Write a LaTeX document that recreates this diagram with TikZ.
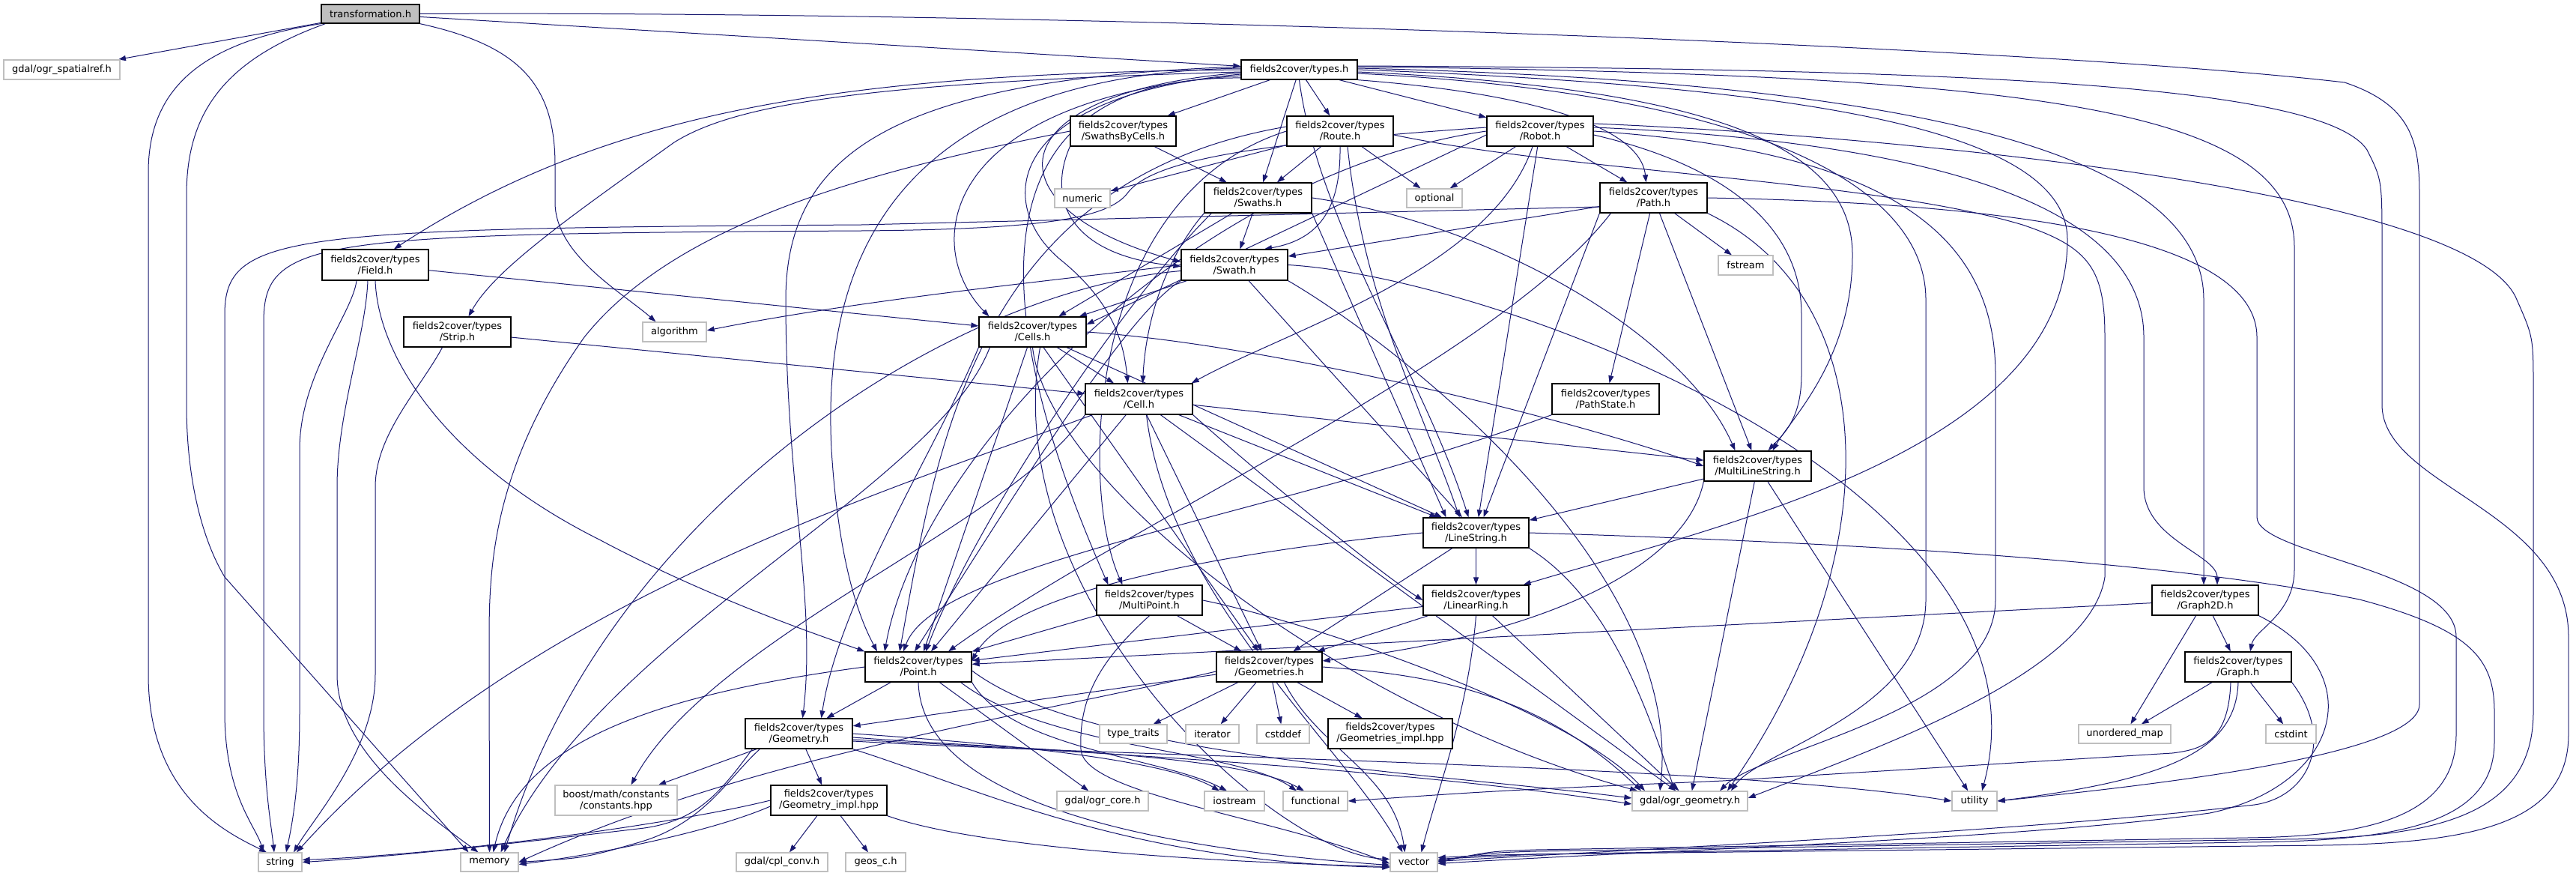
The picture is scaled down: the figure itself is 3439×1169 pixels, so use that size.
\documentclass[tikz,border=0pt]{standalone}
\usepackage{fontspec}
\setmainfont{DejaVu Sans}
\usetikzlibrary{arrows.meta,backgrounds}
\definecolor{navy}{HTML}{191970}
\definecolor{extgray}{HTML}{BFBFBF}
\definecolor{rootgray}{HTML}{BFBFBF}
\newcommand{\dxfont}{\fontsize{13}{15}\selectfont}
\tikzset{
  hdoc/.style={draw=black, line width=1.3pt, fill=white, inner sep=0pt, align=center, font=\dxfont},
  hext/.style={draw=extgray, line width=1.3pt, fill=white, inner sep=0pt, align=center, font=\dxfont},
  hroot/.style={hdoc, fill=rootgray},
  sz/.style 2 args={minimum width=#1pt, minimum height=#2pt},
  dep/.style={draw=navy, line width=1pt, line join=round, -{Triangle[length=10pt,width=7pt]}}
}
\begin{document}
\begin{tikzpicture}[x=1pt,y=-1pt]
\useasboundingbox (0,0) rectangle (3439,1169);
% ---------------- nodes ----------------
\node[hroot,sz={131}{25}] (tr) at (494.5,18.5) {transformation.h};
\node[hext,sz={155}{26}] (spat) at (82.5,93) {gdal/ogr\_spatialref.h};
\node[hdoc,sz={155}{26}] (ty) at (1734.5,93) {fields2cover/types.h};
\node[hdoc,sz={141}{40}] (sbc) at (1499.5,175) {fields2cover/types\\/SwathsByCells.h};
\node[hdoc,sz={142}{40}] (route) at (1789,175) {fields2cover/types\\/Route.h};
\node[hdoc,sz={142}{40}] (robot) at (2056,175) {fields2cover/types\\/Robot.h};
\node[hext,sz={74}{25}] (numeric) at (1445,264.5) {numeric};
\node[hdoc,sz={143}{40}] (swaths) at (1679.5,264) {fields2cover/types\\/Swaths.h};
\node[hext,sz={74}{25}] (optional) at (1915,264.5) {optional};
\node[hdoc,sz={143}{40}] (path) at (2207.5,264) {fields2cover/types\\/Path.h};
\node[hext,sz={73}{26}] (fstream) at (2330.5,354) {fstream};
\node[hdoc,sz={142}{41}] (field) at (501,353.5) {fields2cover/types\\/Field.h};
\node[hdoc,sz={142}{41}] (swath) at (1648,353.5) {fields2cover/types\\/Swath.h};
\node[hdoc,sz={143}{40}] (strip) at (610.5,443) {fields2cover/types\\/Strip.h};
\node[hext,sz={85}{26}] (algo) at (900.5,443) {algorithm};
\node[hdoc,sz={143}{40}] (cells) at (1378.5,443) {fields2cover/types\\/Cells.h};
\node[hdoc,sz={143}{41}] (cell) at (1520.5,532.5) {fields2cover/types\\/Cell.h};
\node[hdoc,sz={143}{41}] (pstate) at (2143.5,532.5) {fields2cover/types\\/PathState.h};
\node[hdoc,sz={143}{40}] (mls) at (2346.5,622) {fields2cover/types\\/MultiLineString.h};
\node[hdoc,sz={141}{40}] (ls) at (1970.5,711) {fields2cover/types\\/LineString.h};
\node[hdoc,sz={141}{40}] (mp) at (1534.5,801) {fields2cover/types\\/MultiPoint.h};
\node[hdoc,sz={141}{40}] (lr) at (1970.5,801) {fields2cover/types\\/LinearRing.h};
\node[hdoc,sz={142}{40}] (g2d) at (2944,801) {fields2cover/types\\/Graph2D.h};
\node[hdoc,sz={142}{40}] (point) at (1226,890) {fields2cover/types\\/Point.h};
\node[hdoc,sz={141}{40}] (geoms) at (1694.5,890) {fields2cover/types\\/Geometries.h};
\node[hdoc,sz={142}{40}] (graph) at (2988,890) {fields2cover/types\\/Graph.h};
\node[hext,sz={90}{25}] (ttraits) at (1513,979.5) {type\_traits};
\node[hext,sz={71}{25}] (iter) at (1618.5,979.5) {iterator};
\node[hext,sz={70}{25}] (cstddef) at (1713,979.5) {cstddef};
\node[hdoc,sz={166}{40}] (gimpls) at (1856,979) {fields2cover/types\\/Geometries\_impl.hpp};
\node[hdoc,sz={143}{40}] (geom) at (1066.5,979) {fields2cover/types\\/Geometry.h};
\node[hext,sz={123}{25}] (umap) at (2836.5,979.5) {unordered\_map};
\node[hext,sz={67}{25}] (cstdint) at (3058.5,979.5) {cstdint};
\node[hext,sz={163}{40}] (boost) at (822.5,1068) {boost/math/constants\\/constants.hpp};
\node[hdoc,sz={155}{40}] (geomimpl) at (1106.5,1068) {fields2cover/types\\/Geometry\_impl.hpp};
\node[hext,sz={122}{26}] (ogrcore) at (1472,1069) {gdal/ogr\_core.h};
\node[hext,sz={80}{26}] (iostream) at (1648,1069) {iostream};
\node[hext,sz={86}{26}] (functional) at (1756,1069) {functional};
\node[hext,sz={154}{26}] (ogrgeom) at (2256,1069) {gdal/ogr\_geometry.h};
\node[hext,sz={60}{26}] (utility) at (2636,1069) {utility};
\node[hext,sz={58}{25}] (string) at (374,1150.5) {string};
\node[hext,sz={77}{25}] (memory) at (653.5,1150.5) {memory};
\node[hext,sz={122}{25}] (cplconv) at (1044,1150.5) {gdal/cpl\_conv.h};
\node[hext,sz={80}{25}] (geosc) at (1169,1150.5) {geos\_c.h};
\node[hext,sz={63}{25}] (vector) at (1887.5,1150.5) {vector};
% ---------------- edges ----------------
\begin{scope}[on background layer]
\fill[white] (0,0) rectangle (3439,1169);
% transformation.h
\draw[dep] (tr) -- (spat);
\draw[dep] (tr) -- (ty);
\draw[dep] (tr.south west) .. controls (280,55) and (198,110) .. (198,230) -- (198,900) .. controls (198,1060) and (300,1110) .. ([xshift=-18pt]string.north);
\draw[dep] ([xshift=6pt]tr.south west) .. controls (300,80) and (249,150) .. (249,260) -- (249,540) .. controls (249,640) and (270,720) .. (300,770) -- ([xshift=-28pt]memory.north);
\draw[dep] (tr.south east) .. controls (690,60) and (741,110) .. (741,220) -- (741,270) .. controls (741,340) and (830,390) .. ([xshift=-25pt]algo.north);
\draw[dep] (tr.east) .. controls (1400,14) and (2700,60) .. (3130,110) .. controls (3220,140) and (3230,190) .. (3230,260) -- (3230,940) .. controls (3230,1010) and (2850,1050) .. (utility.east);
% types.h
\draw[dep] (ty) -- (sbc);
\draw[dep] (ty) -- (route);
\draw[dep] (ty) -- (robot);
\draw[dep] (ty) -- (swaths);
\draw[dep] (ty.south east) .. controls (2050,125) and (2190,170) .. ([xshift=-10pt]path.north);
\draw[dep] ([yshift=-4pt]ty.west) .. controls (1320,125) and (1320,280) .. ([yshift=4pt]swath.west);
\draw[dep] (ty.west) .. controls (1150,98) and (820,140) .. ([xshift=25pt]field.north);
\draw[dep] ([yshift=-3pt]ty.west) .. controls (1150,110) and (980,140) .. (900,190) .. controls (760,290) and (660,360) .. ([xshift=15pt]strip.north);
\draw[dep] ([yshift=-8pt]ty.west) .. controls (1250,130) and (1230,330) .. ([xshift=-58pt]cells.north);
\draw[dep] ([yshift=-6pt]ty.west) .. controls (1330,130) and (1330,280) .. (1420,350) .. controls (1480,400) and (1500,450) .. ([xshift=-15pt]cell.north);
\draw[dep] ([yshift=2pt]ty.west) .. controls (1150,100) and (1100,400) .. (1110,600) .. controls (1120,760) and (1150,830) .. ([xshift=-55pt]point.north);
\draw[dep] ([yshift=-11pt]ty.west) .. controls (1200,100) and (1400,600) .. ([xshift=-55pt]mp.north);
\draw[dep] ([yshift=4pt]ty.west) .. controls (1200,105) and (1049,200) .. (1049,400) .. controls (1049,650) and (1090,800) .. ([xshift=5pt]geom.north);
\draw[dep] (ty.south) .. controls (1760,300) and (1900,500) .. ([xshift=-10pt]ls.north);
\draw[dep] (ty.east) .. controls (2400,115) and (2760,170) .. (2760,320) .. controls (2760,600) and (2300,700) .. ([xshift=-8pt]lr.north east);
\draw[dep] ([yshift=-3pt]ty.east) .. controls (2300,118) and (2473,200) .. (2473,340) .. controls (2473,480) and (2390,560) .. ([xshift=20pt]mls.north);
\draw[dep] ([yshift=2pt]ty.east) .. controls (2500,108) and (2942,190) .. (2942,400) -- ([xshift=-2pt]g2d.north);
\draw[dep] ([yshift=4pt]ty.east) .. controls (2700,100) and (3063,140) .. (3063,330) -- (3063,760) .. controls (3063,820) and (3010,840) .. ([xshift=16pt]graph.north);
\draw[dep] ([yshift=5pt]ty.east) .. controls (2600,92) and (3100,110) .. (3160,200) .. controls (3180,240) .. (3180,330) -- (3180,540) .. controls (3180,650) and (3429,680) .. (3429,850) -- (3429,980) .. controls (3429,1100) and (3300,1125) .. (3100,1128) -- (2050,1140) .. controls (1990,1142) .. ([yshift=4pt]vector.east);
\draw[dep] ([yshift=-5pt]ty.east) .. controls (2350,125) and (2571,250) .. (2571,400) -- (2571,800) .. controls (2571,950) and (2350,1000) .. ([xshift=55pt]ogrgeom.north);
% SwathsByCells.h
\draw[dep] (sbc) -- (swaths);
\draw[dep] (sbc.south west) .. controls (1400,260) and (1420,340) .. ([yshift=-2pt]swath.west);
\draw[dep] (sbc.west) .. controls (1150,230) and (900,300) .. (780,450) .. controls (660,620) and (653,750) .. (653,850) -- (memory.north);
% Route.h
\draw[dep] (route) -- (numeric);
\draw[dep] (route) -- (optional);
\draw[dep] (route) -- (swaths);
\draw[dep] (route.south) .. controls (1790,280) and (1760,320) .. ([xshift=40pt]swath.north);
\draw[dep] ([xshift=10pt]route.south) .. controls (1820,400) and (1900,550) .. ([xshift=-22pt]ls.north);
\draw[dep] (route.west) .. controls (1450,260) and (1440,650) .. ([xshift=-36pt]mp.north);
\draw[dep] ([yshift=6pt]route.west) .. controls (1300,240) and (1250,600) .. ([xshift=-25pt]point.north);
\draw[dep] ([yshift=-5pt]route.east) .. controls (2100,230) and (2500,240) .. (2700,300) .. controls (2790,330) and (2810,360) .. (2810,450) -- (2810,770) .. controls (2790,900) and (2500,1000) .. ([yshift=4pt]ogrgeom.east);
% Robot.h
\draw[dep] (robot) -- (optional);
\draw[dep] (robot) -- (path);
\draw[dep] ([xshift=-10pt]robot.south) .. controls (1990,360) and (1720,440) .. ([xshift=-2pt]cell.north east);
\draw[dep] (robot) -- (ls);
\draw[dep] ([yshift=-5pt]robot.west) -- ([yshift=10pt]cells.east);
\draw[dep] (robot.west) .. controls (1600,230) and (1230,600) .. ([xshift=-45pt]point.north);
\draw[dep] ([yshift=5pt]robot.west) .. controls (1700,190) and (1540,210) .. (1505,258) .. controls (1480,290) and (1400,306) .. (1150,308) .. controls (420,312) and (352,318) .. (352,430) -- (352,950) .. controls (352,1050) and (362,1100) .. ([xshift=-8pt]string.north);
\draw[dep] ([yshift=5pt]robot.east) .. controls (2600,190) and (2862,280) .. (2862,450) -- (2862,650) .. controls (2862,720) and (2960,740) .. ([xshift=16pt]g2d.north);
\draw[dep] ([yshift=-5pt]robot.east) .. controls (2300,220) and (2405,300) .. (2405,420) -- (2405,500) .. controls (2405,560) and (2380,580) .. ([xshift=14pt]mls.north);
\draw[dep] (robot.east) .. controls (2500,200) and (2664,300) .. (2664,500) -- (2664,800) .. controls (2664,950) and (2350,1000) .. ([xshift=40pt]ogrgeom.north);
\draw[dep] ([yshift=10pt]robot.east) .. controls (2500,180) and (3300,250) .. (3360,400) .. controls (3382,450) .. (3382,520) -- (3382,950) .. controls (3382,1090) and (3250,1118) .. (3050,1120) -- (2050,1136) .. controls (1990,1138) .. ([yshift=2pt]vector.east);
% Path.h
\draw[dep] (path) -- (swath);
\draw[dep] (path) -- (fstream);
\draw[dep] (path) -- (pstate);
\draw[dep] (path.south west) -- ([xshift=10pt]ls.north);
\draw[dep] (path) -- (mls);
\draw[dep] ([xshift=15pt]path.south west) .. controls (2000,480) and (1500,700) .. ([xshift=40pt]point.north);
\draw[dep] ([yshift=-12pt]path.west) -- (1150,300) .. controls (380,305) and (300,312) .. (300,420) -- (300,950) .. controls (300,1060) and (340,1100) .. ([xshift=-22pt]string.north);
\draw[dep] (path.south east) .. controls (2520,400) and (2520,750) .. ([xshift=50pt]ogrgeom.north);
\draw[dep] (path.east) .. controls (2600,270) and (3013,300) .. (3013,450) -- (3013,690) .. controls (3013,740) and (3279,760) .. (3279,850) -- (3279,980) .. controls (3279,1095) and (3150,1116) .. (3000,1118) -- (2050,1134) .. controls (1990,1136) .. (vector.east);
% Swaths.h
\draw[dep] (swaths) -- (swath);
\draw[dep] (swaths) -- (cells);
\draw[dep] (swaths.south west) .. controls (1560,340) and (1530,420) .. ([xshift=5pt]cell.north);
\draw[dep] (swaths.south east) -- ([xshift=-40pt]ls.north);
\draw[dep] (swaths.east) .. controls (2000,300) and (2250,450) .. ([xshift=-30pt]mls.north);
\draw[dep] ([xshift=10pt]swaths.south west) .. controls (1500,400) and (1300,700) .. ([xshift=10pt]point.north);
% Swath.h
\draw[dep] (swath.west) .. controls (1400,375) and (1150,400) .. ([yshift=2pt]algo.east);
\draw[dep] (swath) -- (cells);
\draw[dep] (swath) -- (ls);
\draw[dep] (swath.south west) .. controls (1500,420) and (1330,700) .. ([xshift=-5pt]point.north);
\draw[dep] (swath.south east) .. controls (1850,450) and (2250,750) .. ([xshift=-40pt]ogrgeom.north);
\draw[dep] (swath.east) .. controls (2000,370) and (2755,650) .. ([xshift=10pt]utility.north);
\draw[dep] ([yshift=-8pt]swath.west) .. controls (1250,390) and (800,700) .. ([xshift=20pt]memory.north);
% Field.h
\draw[dep] (field) -- ([yshift=8pt]cells.west);
\draw[dep] (field.south) .. controls (505,480) and (600,620) .. (800,720) .. controls (950,800) and (1100,850) .. (point.north west);
\draw[dep] ([xshift=-25pt]field.south) .. controls (470,420) and (400,500) .. (400,600) -- (400,950) .. controls (400,1050) and (390,1100) .. ([xshift=8pt]string.north);
\draw[dep] ([xshift=-10pt]field.south) .. controls (488,450) and (450,550) .. (450,650) -- (450,900) .. controls (450,1000) and (560,1080) .. ([xshift=-15pt]memory.north);
% Strip.h
\draw[dep] (strip) -- (cell);
\draw[dep] ([xshift=-20pt]strip.south) .. controls (560,520) and (501,580) .. (501,650) -- (501,900) .. controls (501,1000) and (420,1090) .. ([xshift=18pt]string.north);
% Cells.h
\draw[dep] (cells) -- (cell);
\draw[dep] (cells) -- (ls);
\draw[dep] (cells) -- (point);
\draw[dep] (cells.south west) .. controls (1250,600) and (1120,800) .. ([xshift=30pt]geom.north);
\draw[dep] (cells) -- (geoms);
\draw[dep] (cells.east) .. controls (1700,460) and (2100,560) .. (mls.west);
\draw[dep] ([xshift=15pt]cells.south west) .. controls (1250,650) and (800,850) .. ([xshift=15pt]memory.north);
\draw[dep] (cells.south) .. controls (1400,650) and (1800,950) .. ([xshift=-70pt]ogrgeom.north);
\draw[dep] ([xshift=10pt]cells.south) .. controls (1330,800) and (1700,1140) .. ([yshift=4pt]vector.west);
% Cell.h
\draw[dep] (cell) -- (mls);
\draw[dep] (cell) -- (ls);
\draw[dep] (cell.south east) .. controls (1700,650) and (1850,770) .. (lr.west);
\draw[dep] (cell) -- (geoms);
\draw[dep] (cell) -- (point);
\draw[dep] (cell.south west) .. controls (1350,700) and (950,850) .. ([xshift=20pt]boost.north);
\draw[dep] ([xshift=10pt]cell.south west) .. controls (1200,650) and (700,800) .. ([xshift=22pt]string.north);
\draw[dep] ([xshift=10pt]cell.south) .. controls (1560,800) and (1800,1000) .. ([xshift=-15pt]vector.north);
\draw[dep] (cell) -- (ogrgeom);
% PathState.h
\draw[dep] (pstate.south west) .. controls (1700,690) and (1250,750) .. ([xshift=-20pt]point.north);
% MultiLineString.h
\draw[dep] (mls) -- (ls);
\draw[dep] (mls.south west) .. controls (2250,760) and (2050,850) .. ([yshift=8pt]geoms.east);
\draw[dep] (mls) -- (ogrgeom);
\draw[dep] (mls) -- (utility);
% LineString.h
\draw[dep] (ls.west) .. controls (1700,730) and (1350,780) .. ([yshift=8pt]point.east);
\draw[dep] (ls) -- (lr);
\draw[dep] (ls) -- (geoms);
\draw[dep] (ls.south east) .. controls (2150,800) and (2200,950) .. ([xshift=-20pt]ogrgeom.north);
\draw[dep] (ls.east) .. controls (2500,725) and (2900,750) .. (3150,800) .. controls (3300,840) and (3330,880) .. (3330,950) -- (3330,990) .. controls (3330,1100) and (3200,1122) .. (3000,1124) -- (2050,1140) .. controls (1990,1141) .. ([yshift=6pt]vector.east);
% LinearRing.h
\draw[dep] (lr) -- (point);
\draw[dep] (lr) -- (geoms);
\draw[dep] (lr) -- (ogrgeom);
\draw[dep] (lr.south) .. controls (1960,950) and (1920,1050) .. ([xshift=10pt]vector.north);
% MultiPoint.h
\draw[dep] (mp) -- (point);
\draw[dep] (mp) -- (geoms);
\draw[dep] (mp.east) .. controls (1750,830) and (2100,950) .. ([xshift=-60pt]ogrgeom.north);
\draw[dep] (mp.south) .. controls (1470,880) and (1440,930) .. (1443,1000) .. controls (1446,1060) and (1700,1090) .. ([yshift=-2pt]vector.west);
% Graph2D.h
\draw[dep] (g2d) -- (point);
\draw[dep] (g2d) -- (graph);
\draw[dep] (g2d) -- (umap);
\draw[dep] (g2d.south east) .. controls (3170,900) and (3120,1050) .. (2950,1085) .. controls (2700,1120) and (2200,1135) .. ([yshift=-2pt]vector.east);
% Graph.h
\draw[dep] (graph) -- (umap);
\draw[dep] (graph) -- (cstdint);
\draw[dep] ([xshift=-10pt]graph.south) .. controls (2975,990) and (2940,1000) .. (2900,1005) -- (2300,1042) .. controls (2000,1055) .. (functional.east);
\draw[dep] (graph.south) .. controls (2985,1000) and (2900,1040) .. (utility.east);
\draw[dep] (graph.south east) .. controls (3120,990) and (3080,1070) .. (3000,1075) .. controls (2700,1110) and (2200,1132) .. ([yshift=1pt]vector.east);
% Point.h
\draw[dep] (point) -- (geom);
\draw[dep] (point.west) .. controls (850,930) and (690,1000) .. ([xshift=5pt]memory.north);
\draw[dep] (point) -- (ogrcore);
\draw[dep] (point.south east) .. controls (1350,1000) and (1550,1010) .. ([xshift=-10pt]iostream.north);
\draw[dep] ([xshift=-15pt]point.south east) .. controls (1400,1000) and (1650,1000) .. ([xshift=-25pt]functional.north);
\draw[dep] (point.south) .. controls (1230,1060) and (1500,1130) .. ([yshift=-4pt]vector.west);
\draw[dep] ([yshift=-5pt]point.east) .. controls (1450,1010) and (1900,1030) .. ([yshift=4pt]ogrgeom.west);
% Geometries.h
\draw[dep] (geoms) -- (geom);
\draw[dep] (geoms) -- (ttraits);
\draw[dep] (geoms) -- (iter);
\draw[dep] (geoms) -- (cstddef);
\draw[dep] (geoms) -- (gimpls);
\draw[dep] (geoms.east) .. controls (1900,900) and (2050,920) .. ([xshift=-65pt]ogrgeom.north);
\draw[dep] ([yshift=-6pt]geoms.west) .. controls (1350,960) and (1000,1010) .. (memory.east);
\draw[dep] ([xshift=20pt]geoms.south) .. controls (1760,1000) and (1860,1030) .. ([xshift=-12pt]vector.north);
% Geometry.h
\draw[dep] (geom) -- (boost);
\draw[dep] (geom) -- (geomimpl);
\draw[dep] ([xshift=10pt]geom.south west) .. controls (960,1060) and (930,1095) .. (860,1105) .. controls (650,1130) and (500,1145) .. (string.east);
\draw[dep] ([xshift=20pt]geom.south west) .. controls (970,1040) and (940,1100) .. (850,1125) .. controls (780,1145) .. (memory.east);
\draw[dep] (geom.south east) .. controls (1300,1050) and (1500,1150) .. ([yshift=-7pt]vector.west);
\draw[dep] (geom.east) .. controls (1300,990) and (1550,1010) .. ([xshift=-20pt]iostream.north);
\draw[dep] ([yshift=-5pt]geom.east) .. controls (1350,1000) and (1650,1005) .. ([xshift=-15pt]functional.north);
\draw[dep] ([yshift=-10pt]geom.east) .. controls (1500,1010) and (2300,1020) .. (utility.west);
\draw[dep] ([yshift=-8pt]geom.east) .. controls (1500,1005) and (1900,1030) .. ([yshift=-4pt]ogrgeom.west);
% Geometry_impl.hpp
\draw[dep] (geomimpl) -- (cplconv);
\draw[dep] (geomimpl) -- (geosc);
\draw[dep] (geomimpl.west) .. controls (900,1100) and (600,1140) .. ([yshift=3pt]string.east);
\draw[dep] ([yshift=-8pt]geomimpl.west) .. controls (950,1110) and (800,1140) .. ([yshift=-3pt]memory.east);
\draw[dep] (geomimpl.south east) .. controls (1300,1130) and (1600,1150) .. ([yshift=-6pt]vector.west);
\end{scope}
\end{tikzpicture}
\end{document}
